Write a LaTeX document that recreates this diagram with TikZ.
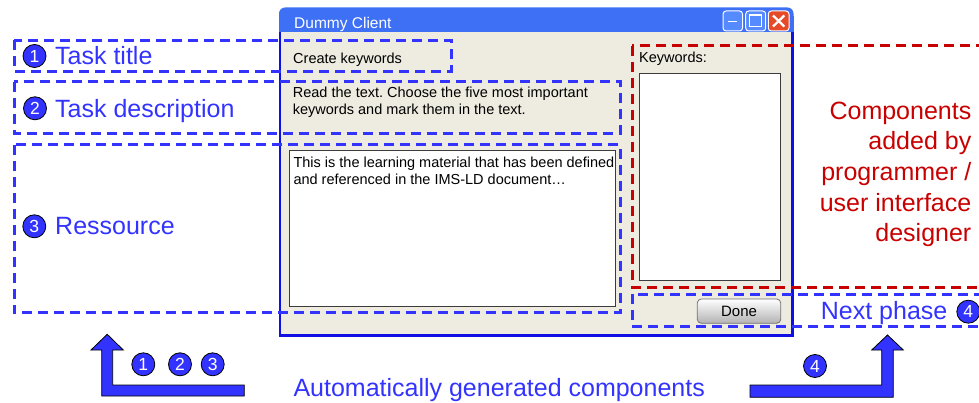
\documentclass[tikz,border=0pt]{standalone}
\usepackage{fontspec}
\setmainfont{Liberation Sans}
\frenchspacing

\definecolor{hiblue}{RGB}{51,51,255}
\definecolor{devred}{RGB}{200,0,0}
\definecolor{winbody}{RGB}{238,235,224}
\definecolor{titleblue}{RGB}{62,112,246}
\definecolor{btnblue}{RGB}{86,138,255}
\definecolor{frameblue}{RGB}{16,16,228}
\definecolor{closered}{RGB}{230,74,40}
\definecolor{fieldline}{RGB}{60,60,60}

\tikzset{
  guide/.style={draw=hiblue, line width=3pt, dash pattern=on 10pt off 6pt},
  devguide/.style={draw=devred, line width=3pt, dash pattern=on 10pt off 6pt},
  biglabel/.style={text=hiblue, font=\fontsize{25}{30.7}\selectfont, inner sep=0pt},
  badge/.style={circle, fill=hiblue, draw=black, line width=0.8pt, minimum size=23pt,
    inner sep=0pt, text=white, font=\fontsize{17.5}{17.5}\selectfont},
  uitext/.style={font=\fontsize{14.5}{17}\selectfont, anchor=base west, inner sep=0pt, text=black},
  field/.style={fill=white, draw=fieldline, line width=0.9pt},
  capbtn/.style={draw=white, line width=1pt, rounded corners=3pt},
  bigarrow/.style={fill=hiblue, draw=black, line width=0.8pt, line join=miter},
}

\begin{document}
\begin{tikzpicture}[x=1pt, y=-1pt]
\useasboundingbox (0,0) rectangle (979,403);

% ---------- window frame and title bar ----------
\fill[titleblue, rounded corners=6pt] (279,7.5) rectangle (793.5,24);
\fill[titleblue] (279,16) rectangle (793.5,32.3);
\fill[frameblue] (279,32.3) rectangle (793.5,337);
\fill[winbody] (281,32.3) rectangle (790.5,334);
\node[uitext, text=white, font=\fontsize{15.5}{18}\selectfont] (title) at (294,29) {Dummy Client};

% caption buttons
\fill[btnblue, capbtn] (723,11) rectangle (742.5,31);
\draw[white, line width=1.6pt] (728,21.7) -- (737,21.7);
\fill[btnblue, capbtn] (745.7,11) rectangle (765.7,31);
\draw[white, line width=1pt] (749.5,14.5) rectangle (761.5,27);
\draw[white, line width=2pt] (749.5,15.5) -- (761.5,15.5);
\fill[closered, capbtn] (768.3,11) rectangle (789,31);
\draw[white, line width=2.2pt] (773,15.5) -- (784.3,26.5) (784.3,15.5) -- (773,26.5);

% ---------- window contents ----------
\node[uitext] (tasktitle) at (293,63.3) {Create keywords};
\node[uitext] (kwlabel) at (639,63) {Keywords:};
\node[uitext] (desc1) at (292.7,97.3) {Read the text. Choose the five most important};
\node[uitext] (desc2) at (292.7,114.3) {keywords and mark them in the text.};

\draw[field] (639,73.3) rectangle (780,280.7);
\draw[field] (289,150.7) rectangle (615.7,306.7);
\node[uitext] (res1) at (293.3,167.7) {This is the learning material that has been defined};
\node[uitext] (res2) at (293.3,185) {and referenced in the IMS-LD document…};

\shade[top color=white, middle color=white, bottom color=black!30, rounded corners=4pt]
  (697.3,299) rectangle (780.7,323.3);
\draw[black!55, line width=0.8pt, rounded corners=4pt] (697.3,299) rectangle (780.7,323.3);
\node[font=\fontsize{15}{18}\selectfont, inner sep=0pt] (done) at (739,311.5) {Done};

% ---------- region guides ----------
\draw[guide] (14,40.5) rectangle (451,71.5);
\draw[guide] (14,82) rectangle (620.5,133.5);
\draw[guide] (14,145) rectangle (620.5,312.7);
\draw[devguide] (632.3,46) rectangle (1000,287);
\draw[guide] (632.3,294) rectangle (1000,326);

% ---------- region labels ----------
\node[badge] (b1) at (34.5,56) {1};
\node[biglabel, anchor=base west] (l1) at (55,65) {Task title};
\node[badge] (b2) at (35,108.3) {2};
\node[biglabel, anchor=base west] (l2) at (55,117.3) {Task description};
\node[badge] (b3) at (34.3,226.3) {3};
\node[biglabel, anchor=base west] (l3) at (55,234.3) {Ressource};
\node[biglabel, anchor=base west] (l4) at (820.7,319.3) {Next phase};
\node[badge] (b4) at (968.3,311.7) {4};

\node[biglabel, text=devred, align=right, anchor=north east] (devnote) at (971.5,101.5)
  {Components\\added by\\programmer /\\user interface\\designer};

% ---------- bottom arrows ----------
\draw[bigarrow] (101.7,396) -- (244.3,396) -- (244.3,385) -- (112.7,385) -- (112.7,350)
  -- (123.3,350) -- (107.2,334.3) -- (91,350) -- (101.7,350) -- cycle;
\draw[bigarrow] (750,397.3) -- (893.3,397.3) -- (893.3,350) -- (903.3,350) -- (887.5,335)
  -- (871.7,350) -- (881.7,350) -- (881.7,385) -- (750,385) -- cycle;

\node[badge] (g1) at (143.3,364.3) {1};
\node[badge] (g2) at (180,364.3) {2};
\node[badge] (g3) at (212.7,364.3) {3};
\node[badge] (g4) at (815,366) {4};

\node[biglabel, anchor=base west] (auto) at (293.3,396.7) {Automatically generated components};
\end{tikzpicture}
\end{document}
